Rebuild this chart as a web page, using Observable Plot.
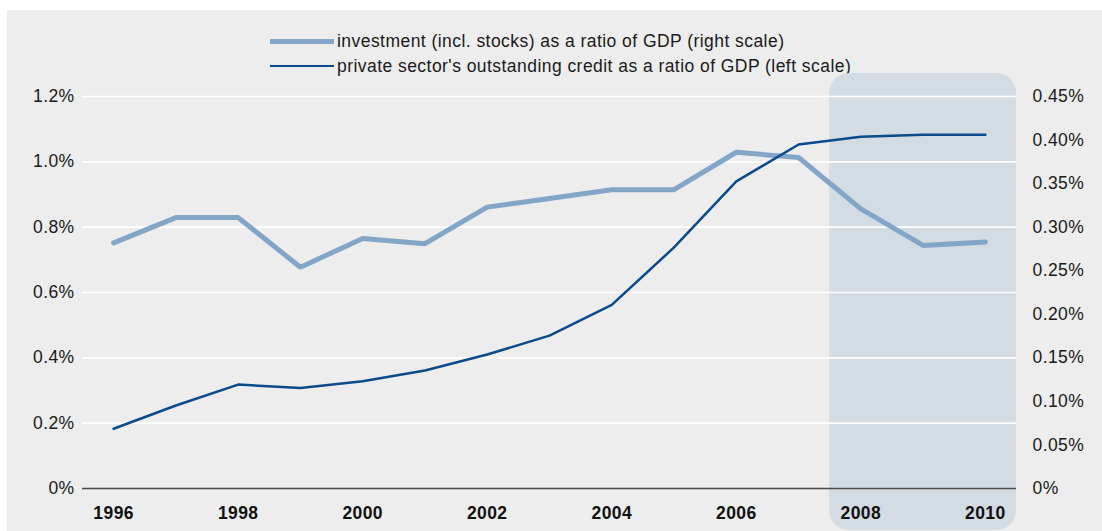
<!DOCTYPE html>
<html>
<head>
<meta charset="utf-8">
<script src="https://cdn.jsdelivr.net/npm/d3@7"></script>
<script src="https://cdn.jsdelivr.net/npm/@observablehq/plot@0.6"></script>
<style>
  html, body { margin: 0; padding: 0; background: #ffffff; }
  body { width: 1102px; height: 531px; position: relative; overflow: hidden; font-family: "Liberation Sans", Arial, Helvetica, sans-serif; }
  #panel { position: absolute; left: 7px; top: 10px; width: 1095px; height: 521px; background: #ecedec; }
  .leg { position: absolute; left: 263px; height: 20px; display: flex; align-items: center; font-size: 17.5px; letter-spacing: 0.45px; color: #1a1a1a; white-space: nowrap; }
  .sw { width: 64px; margin-right: 3px; }
  #chart { position: absolute; left: 0px; top: 60px; }
  #chart text { letter-spacing: 0.4px; }
</style>
</head>
<body>
<div id="panel">
  <div class="leg" style="top:21px"><span class="sw" style="height:5px;background:#82a5c8"></span><span id="l1"></span></div>
  <div class="leg" style="top:46px"><span class="sw" style="height:2.5px;background:#0b4a8c"></span><span id="l2"></span></div>
  <div id="chart"></div>
</div>
<script>
const years = [1996,1997,1998,1999,2000,2001,2002,2003,2004,2005,2006,2007,2008,2009,2010];
// investment (incl. stocks) as a ratio of GDP, % (right scale)
const investment = [0.282,0.311,0.311,0.254,0.287,0.281,0.323,0.333,0.343,0.343,0.386,0.380,0.321,0.279,0.283];
// private sector's outstanding credit as a ratio of GDP, % (left scale)
const credit = [0.183,0.254,0.318,0.308,0.328,0.361,0.410,0.468,0.562,0.738,0.940,1.053,1.077,1.083,1.083];
const leftTicks = [0,0.2,0.4,0.6,0.8,1.0,1.2];
const rightTicks = [0,0.05,0.10,0.15,0.20,0.25,0.30,0.35,0.40,0.45];
const yearTicks = [1996,1998,2000,2002,2004,2006,2008,2010];
const shadeRange = [2007.5, 2010.5];
const legendLabels = ["investment (incl. stocks) as a ratio of GDP (right scale)",
                      "private sector's outstanding credit as a ratio of GDP (left scale)"];

document.getElementById("l1").textContent = legendLabels[0];
document.getElementById("l2").textContent = legendLabels[1];

const k = 1.2 / 0.45; // right scale -> left scale
const invData = years.map((y, i) => ({year: y, v: investment[i] * k}));
const credData = years.map((y, i) => ({year: y, v: credit[i]}));

const chart = Plot.plot({
  width: 1095,
  height: 461,
  marginTop: 26,
  marginBottom: 43,
  marginLeft: 75,
  marginRight: 86,
  style: {fontFamily: '"Liberation Sans", Arial, Helvetica, sans-serif', fontSize: "17.5px", color: "#1a1a1a", background: "transparent", overflow: "visible"},
  x: {domain: [1995.5, 2010.5], label: null},
  y: {domain: [0, 1.2], label: null},
  marks: [
    Plot.rect([shadeRange], {x1: d => d[0], x2: d => d[1], fill: "#d3dbe3", rx: 20, insetTop: -23, insetBottom: -42}),
    Plot.ruleY(leftTicks.filter(d => d > 0), {stroke: "#ffffff", strokeWidth: 1.6}),
    Plot.ruleY([0], {stroke: "#4a4a4a", strokeWidth: 1.5}),
    Plot.axisY(leftTicks, {anchor: "left", label: null, tickSize: 0, tickPadding: 8, tickFormat: d => d === 0 ? "0%" : d.toFixed(1) + "%", fontSize: 17.5, fill: "#1a1a1a"}),
    Plot.axisY(rightTicks.map(d => d * k), {anchor: "right", label: null, tickSize: 0, tickPadding: 16, textAnchor: "start", tickFormat: d => { const v = d / k; return Math.abs(v) < 1e-9 ? "0%" : v.toFixed(2) + "%"; }, fontSize: 17.5, fill: "#1a1a1a"}),
    Plot.axisX(yearTicks, {anchor: "bottom", label: null, tickSize: 0, tickPadding: 18, tickFormat: d => String(d), fontSize: 17.5, fontWeight: "bold", fill: "#111"}),
    Plot.lineY(invData, {x: "year", y: "v", stroke: "#82a5c8", strokeWidth: 5, strokeLinejoin: "miter"}),
    Plot.lineY(credData, {x: "year", y: "v", stroke: "#0b4a8c", strokeWidth: 2.5})
  ]
});
document.getElementById("chart").appendChild(chart);
</script>
</body>
</html>
